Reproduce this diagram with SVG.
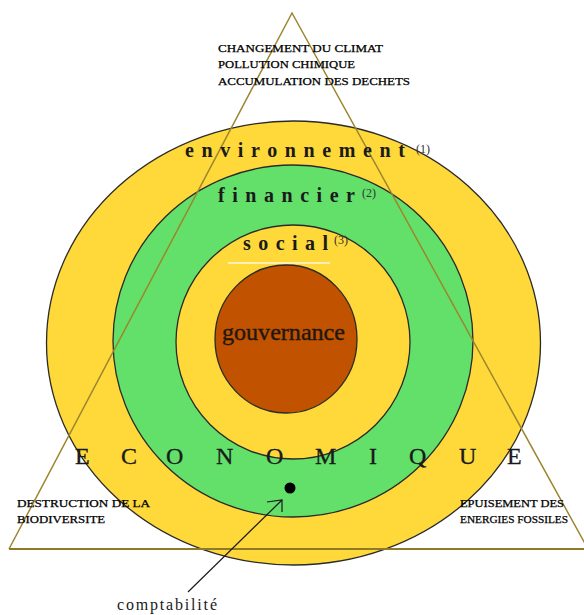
<svg xmlns="http://www.w3.org/2000/svg" width="584" height="615" viewBox="0 0 584 615">
<style>
  .ring { stroke: #2a2a2a; stroke-width: 1.3; }
  .yellow { fill: #FFD83A; }
  .green { fill: #62E06A; }
  .brown { fill: #C05200; }
  .t { font-family: "Liberation Serif", "Times New Roman", serif; fill: #1a1a1a; }
  .caps { font-size: 10.5px; fill: #000; stroke: #000; stroke-width: 0.25; }
  .big { font-size: 20px; font-weight: bold; }
  .sup { font-size: 12px; fill: #333; }
  .tri { fill: none; stroke: #9C8630; stroke-width: 1.5; }
  .conn { fill: none; stroke: #1a1a1a; stroke-width: 1.2; }
</style>
<rect width="584" height="615" fill="#ffffff"/>
<g id="environnement">
  <ellipse class="ring yellow" cx="293.5" cy="343" rx="247" ry="222"/>
</g>
<g id="financier">
  <ellipse class="ring green" cx="293" cy="341" rx="180" ry="176"/>
</g>
<g id="social">
  <ellipse class="ring yellow" cx="293" cy="342" rx="117" ry="117"/>
  <rect x="228" y="262" width="102" height="2" fill="#ffffff" opacity="0.6"/>
</g>
<g id="gouvernance">
  <ellipse class="ring brown" cx="286" cy="339" rx="71" ry="74"/>
  <text class="t" x="222" y="340" font-size="23" textLength="123" lengthAdjust="spacingAndGlyphs" fill="#2a1505" stroke="#2a1505" stroke-width="0.4">gouvernance</text>
</g>
<g id="triangle">
  <polyline class="tri" points="9,549 292,13 588,549"/>
  <line x1="9" y1="549" x2="584" y2="549" stroke="#8F7A28" stroke-width="2.2"/>
</g>
<g id="labels-rings">
  <text class="t big" x="185" y="157" textLength="220" lengthAdjust="spacing">environnement</text>
  <text class="t sup" x="416" y="153">(1)</text>
  <text class="t big" x="218" y="202" textLength="137" lengthAdjust="spacing" fill="#10300f">financier</text>
  <text class="t sup" x="362" y="197" fill="#2f5a2f">(2)</text>
  <text class="t big" x="243" y="250" textLength="85" lengthAdjust="spacing">social</text>
  <text class="t sup" x="334" y="244">(3)</text>
</g>
<g id="economique">
  <text class="t" font-size="24" x="75 121 166 216 266 315 369 409 459 507" y="464" stroke="#1a1a1a" stroke-width="0.3">ECONOMIQUE</text>
</g>
<g id="pollution">
  <text class="t caps" x="218" y="52" textLength="165" lengthAdjust="spacingAndGlyphs">CHANGEMENT DU CLIMAT</text>
  <text class="t caps" x="218" y="68" textLength="137" lengthAdjust="spacingAndGlyphs">POLLUTION CHIMIQUE</text>
  <text class="t caps" x="218" y="85" textLength="192" lengthAdjust="spacingAndGlyphs">ACCUMULATION DES DECHETS</text>
</g>
<g id="biodiversite">
  <text class="t caps" x="17" y="507" textLength="133" lengthAdjust="spacingAndGlyphs">DESTRUCTION DE LA</text>
  <text class="t caps" x="17" y="523" textLength="88" lengthAdjust="spacingAndGlyphs">BIODIVERSITE</text>
</g>
<g id="energies">
  <text class="t caps" x="460" y="507" textLength="104" lengthAdjust="spacingAndGlyphs">EPUISEMENT DES</text>
  <text class="t caps" x="460" y="523" textLength="108" lengthAdjust="spacingAndGlyphs">ENERGIES FOSSILES</text>
</g>
<g id="comptabilite">
  <circle cx="290" cy="488" r="5.5" fill="#000"/>
  <text class="t" x="117" y="610" font-size="16" textLength="100" lengthAdjust="spacing">comptabilité</text>
</g>
<g id="connectors">
  <line class="conn" x1="188" y1="592" x2="282" y2="500"/>
  <polyline class="conn" points="267,502 282,500 282,512"/>
</g>
</svg>
